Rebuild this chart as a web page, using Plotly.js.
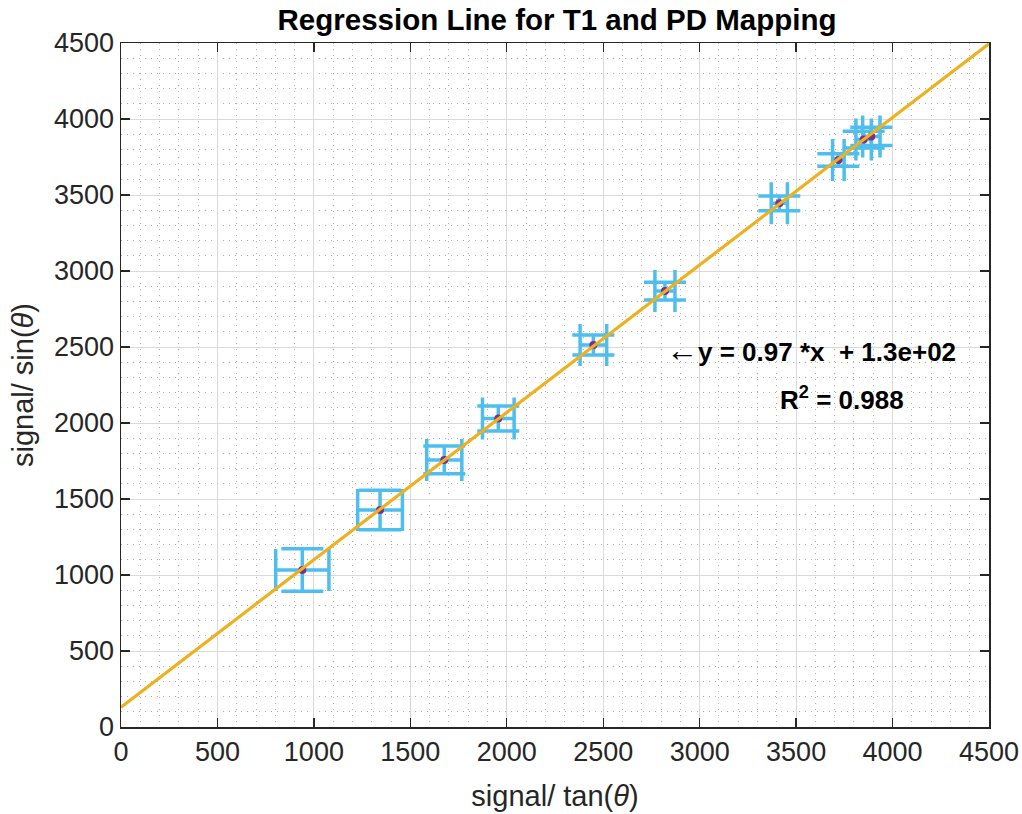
<!DOCTYPE html>
<html>
<head>
<meta charset="utf-8">
<script src="https://cdn.plot.ly/plotly-3.0.1.min.js"></script>
<style>html,body{margin:0;padding:0;background:#fff;}#chart{width:1022px;height:814px;}</style>
</head>
<body>
<div id="chart"></div>
<script>
// Data
const xVals = [940, 1343, 1676, 1956, 2449, 2820, 3413, 3719, 3850, 3890];
const yVals = [1033, 1428, 1757, 2030, 2513, 2868, 3445, 3730, 3865, 3885];
const xErr  = [138, 116, 91, 82, 69, 52, 42, 30, 40, 45];
const yErr  = [140, 130, 91, 82, 66, 58, 49, 41, 55, 60];
const slope = 0.97;
const intercept = 130;
const fitX = [0, 4500];
const fitY = fitX.map(function (x) { return slope * x + intercept; });
const tickVals = [0, 500, 1000, 1500, 2000, 2500, 3000, 3500, 4000, 4500];
const eqArrow = '\u2190';
const eqText = 'y = 0.97 *x \u00A0+ 1.3e+02';
const r2Text = 'R<sup>2</sup> = 0.988';
const titleText = 'Regression Line for T1 and PD Mapping';
const xLabel = 'signal/ tan(<i>\u03B8</i>)';
const yLabel = 'signal/ sin(<i>\u03B8</i>)';

const FONT = 'Liberation Sans, Arial, Helvetica, sans-serif';
const AX = '#262626';

const traces = [
  {
    type: 'scatter', mode: 'markers', x: xVals, y: yVals,
    marker: {color: '#7E2F8E', size: 8},
    error_x: {type: 'data', array: xErr, visible: true, color: '#4DBEEE', thickness: 3.5, width: 21},
    error_y: {type: 'data', array: yErr, visible: true, color: '#4DBEEE', thickness: 3.5, width: 21},
    hoverinfo: 'skip', showlegend: false
  },
  {
    type: 'scatter', mode: 'lines', x: fitX, y: fitY,
    line: {color: '#EDB120', width: 3.2},
    hoverinfo: 'skip', showlegend: false
  }
];

function axis(titleText, isX) {
  return {
    range: [0, 4500], autorange: false,
    tickmode: 'array', tickvals: tickVals, ticktext: tickVals.map(String),
    ticks: 'inside', ticklen: 9, tickwidth: 1.3, tickcolor: AX,
    showline: true, linecolor: AX, linewidth: 1.5, mirror: 'ticks',
    showgrid: true, gridcolor: '#dadada', gridwidth: 1,
    zeroline: false,
    minor: {dtick: 100, showgrid: true, gridcolor: '#b0b0b0', griddash: '1px,5px', gridwidth: 1, ticks: ''},
    tickfont: {family: FONT, size: 27, color: AX},
    title: {text: titleText, font: {family: FONT, size: 29, color: AX}, standoff: isX ? 20 : 12},
    automargin: false
  };
}

const layout = {
  width: 1022, height: 814,
  margin: {l: 121, r: 33, t: 43, b: 87},
  paper_bgcolor: '#ffffff', plot_bgcolor: '#ffffff',
  title: {text: '<b>' + titleText + '</b>', font: {family: FONT, size: 29.5, color: '#000'}, x: 0.545, xanchor: 'center', y: 0.976, yanchor: 'middle'},
  xaxis: axis(xLabel, true),
  yaxis: axis(yLabel, false),
  annotations: [
    {x: 2815, y: 2480, xref: 'x', yref: 'y', text: '<span style="font-weight:normal;font-size:32px">' + eqArrow + '</span><b>' + eqText + '</b>', showarrow: false, xanchor: 'left', yanchor: 'middle', font: {family: FONT, size: 26, color: '#000'}},
    {x: 3738, y: 2160, xref: 'x', yref: 'y', text: '<b>' + r2Text + '</b>', showarrow: false, xanchor: 'center', yanchor: 'middle', font: {family: FONT, size: 26, color: '#000'}}
  ]
};

Plotly.newPlot('chart', traces, layout, {staticPlot: true, displayModeBar: false});
</script>
</body>
</html>
